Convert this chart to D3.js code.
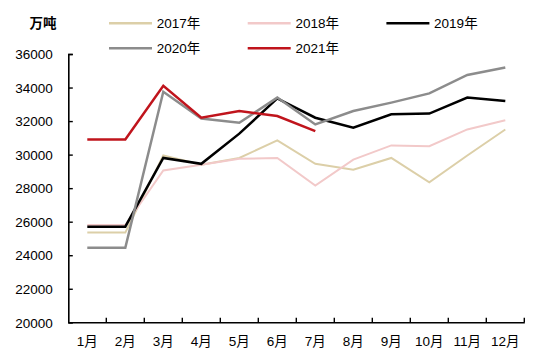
<!DOCTYPE html>
<html>
<head>
<meta charset="utf-8">
<script src="https://cdn.jsdelivr.net/npm/d3@7"></script>
<style>
  html, body { margin: 0; padding: 0; background: #fff; }
  svg { display: block; }
  text { font-family: "Liberation Sans", "Noto Sans CJK SC", sans-serif; font-size: 13.5px; fill: #000; }
</style>
</head>
<body>
<svg id="chart" width="550" height="359"></svg>
<script>
const months = ["1月","2月","3月","4月","5月","6月","7月","8月","9月","10月","11月","12月"];
const yTicks = [20000,22000,24000,26000,28000,30000,32000,34000,36000];
const seriesNames = ["2017年","2018年","2019年","2020年","2021年"];
const seriesColors = ["#DCCFA8","#F2C9C9","#000000","#8C8C8C","#C0141C"];
const seriesWidths = [2, 2, 2.5, 2.5, 2.5];
const v2017 = [25350,25350,29950,29400,29800,30850,29450,29100,29800,28350,29950,31500];
const v2018 = [25800,25800,29050,29400,29750,29800,28150,29700,30550,30500,31500,32050];
const v2019 = [25700,25700,29800,29450,31250,33350,32200,31600,32400,32450,33400,33200];
const v2020 = [24450,24450,33750,32150,31900,33400,31800,32600,33100,33650,34750,35200];
const v2021 = [30900,30900,34100,32200,32600,32300,31400];
const unitLabel = "万吨";

const seriesValues = [v2017, v2018, v2019, v2020, v2021];

const svg = d3.select("#chart");
const mLeft = 68.3, mRight = 524.3, mTop = 54, mBottom = 322.3;

const x = d3.scaleBand().domain(months).range([mLeft, mRight]).paddingInner(0).paddingOuter(0);
const y = d3.scaleLinear().domain([20000, 36000]).range([mBottom, mTop]);
const bw = x.bandwidth();

// lines
const line = d3.line()
  .x((d, i) => x(months[i]) + bw / 2)
  .y(d => y(d));

seriesValues.forEach((vals, k) => {
  svg.append("path")
    .datum(vals)
    .attr("fill", "none")
    .attr("stroke", seriesColors[k])
    .attr("stroke-width", seriesWidths[k])
    .attr("stroke-linejoin", "miter")
    .attr("d", line);
});

// y axis
const yAxis = d3.axisLeft(y).tickValues(yTicks).tickSize(-4.5).tickPadding(15.6).tickFormat(d3.format("d"));
const gy = svg.append("g").attr("transform", `translate(${mLeft},0)`).call(yAxis);
gy.select(".domain").attr("stroke", "#000").attr("stroke-width", 1.6);
gy.selectAll(".tick line").attr("stroke", "#000").attr("stroke-width", 1.4);
gy.selectAll(".tick text").attr("font-family", null).attr("font-size", null).attr("dy", "0.35em");
gy.attr("font-family", null).attr("font-size", null);

// x axis (labels centered in bands)
const xAxis = d3.axisBottom(x).tickSize(0).tickPadding(14.5);
const gx = svg.append("g").attr("transform", `translate(0,${mBottom})`).call(xAxis);
gx.select(".domain").attr("stroke", "#000").attr("stroke-width", 1.6);
gx.selectAll(".tick text").attr("font-family", null).attr("font-size", null);
gx.attr("font-family", null).attr("font-size", null);

// x boundary ticks (pointing up)
svg.append("g").selectAll("line")
  .data(months)
  .join("line")
  .attr("x1", d => x(d) + bw)
  .attr("x2", d => x(d) + bw)
  .attr("y1", mBottom)
  .attr("y2", mBottom - 4.5)
  .attr("stroke", "#000")
  .attr("stroke-width", 1.4);

// unit label
svg.append("text")
  .attr("x", 43).attr("y", 23.3)
  .attr("text-anchor", "middle")
  .attr("dy", "0.35em")
  .attr("font-weight", "bold")
  .text(unitLabel);

// legend
const legCols = [109, 247.7, 386.4];
const legRows = [23.3, 48.3];
seriesNames.forEach((name, k) => {
  const cx = legCols[k % 3], cy = legRows[Math.floor(k / 3)];
  svg.append("line")
    .attr("x1", cx).attr("x2", cx + 43)
    .attr("y1", cy).attr("y2", cy)
    .attr("stroke", seriesColors[k])
    .attr("stroke-width", 2.5);
  svg.append("text")
    .attr("x", cx + 47.7).attr("y", cy)
    .attr("dy", "0.35em")
    .text(name);
});
</script>
</body>
</html>
